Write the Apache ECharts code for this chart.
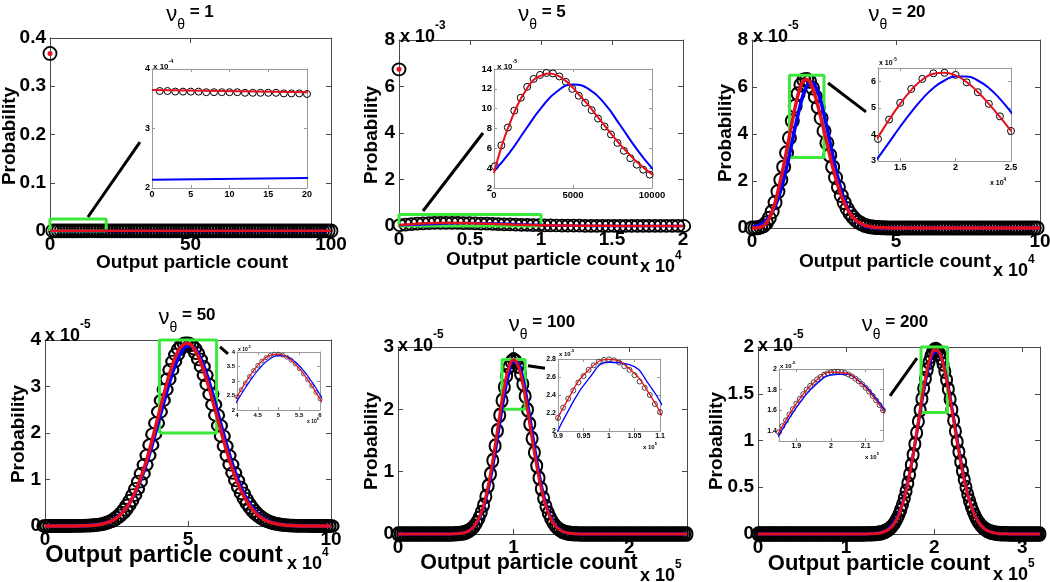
<!DOCTYPE html>
<html><head><meta charset="utf-8">
<script src="https://cdn.jsdelivr.net/npm/echarts@6/dist/echarts.min.js"></script>
<style>html,body{margin:0;padding:0;background:#fff}#c{width:1050px;height:582px}</style>
</head><body><div id="c"></div>
<script>
// ================= DATA =================
// nu_theta = 1 : x = particle count (integers), probability in units of 1e-4 unless noted
const nu1P0 = 0.368;                       // P(0), plotted at x = 0
const nu1CircStart = 1, nu1CircStep = 1;   // circles at x = 1..100
const nu1Circ = [3.63,3.63,3.62,3.62,3.62,3.62,3.61,3.61,3.61,3.61,3.61,3.60,3.60,3.60,3.60,3.60,3.59,3.59,3.59,3.58,
 3.58,3.58,3.58,3.57,3.57,3.57,3.57,3.56,3.56,3.56,3.56,3.55,3.55,3.55,3.55,3.54,3.54,3.54,3.54,3.53,
 3.53,3.53,3.53,3.52,3.52,3.52,3.52,3.51,3.51,3.51,3.51,3.50,3.50,3.50,3.50,3.49,3.49,3.49,3.49,3.48,
 3.48,3.48,3.48,3.47,3.47,3.47,3.47,3.46,3.46,3.46,3.46,3.45,3.45,3.45,3.45,3.44,3.44,3.44,3.44,3.43,
 3.43,3.43,3.43,3.42,3.42,3.42,3.42,3.41,3.41,3.41,3.41,3.40,3.40,3.40,3.40,3.39,3.39,3.39,3.39,3.38];
const nu1LineX = [0, 20, 100];
const nu1Red  = [3.645, 3.61, 3.45];
const nu1Blue = [2.14, 2.17, 2.29];

// nu_theta = 5 : probability in units of 1e-5
const nu5P0 = 6.74e-3;
const nu5CircStart = 60, nu5CircStep = 408;
const nu5Circ = [4.2,6.3,8.1,9.8,11.1,12.2,13.0,13.4,13.6,13.55,13.25,12.7,12.0,11.3,10.6,9.85,9.0,8.2,7.4,6.55,5.75,5.0,4.35,3.85,3.35,
 2.9,2.5,2.15,1.85,1.6,1.35,1.15,0.98,0.83,0.7,0.6,0.5,0.42,0.35,0.29,0.24,0.2,0.17,0.14,0.12,0.1,0.08,0.07,0.06,0.05];
const nu5RedX = [0,500,1000,1500,2000,2500,3000,3500,4000,4500,5000,5500,6000,6500,7000,7500,8000,8500,9000,9500,10000,
 11000,12000,13000,14000,15000,16000,17000,18000,19000,20000];
const nu5Red = [3.5,6.3,8.5,10.4,11.8,12.9,13.35,13.55,13.35,12.85,12.1,11.2,10.3,9.3,8.3,7.3,6.35,5.5,4.7,4.0,3.4,
 2.4,1.7,1.15,0.8,0.55,0.37,0.25,0.16,0.1,0.07];
const nu5BlueStart = 0, nu5BlueStep = 1000;
const nu5Blue = [3.7,5.6,7.9,10.1,11.75,12.43,11.97,10.5,8.3,6.0,4.0,2.35,1.27,0.62,0.28,0.11,0.04,0.013,0.004,0,0];

// nu_theta = 20 : units 1e-5
const nu20CircStart = 0, nu20CircStep = 1000;
const nu20Circ = [0,0.003,0.012,0.04,0.1,0.22,0.42,0.7,1.08,1.55,
 2.05,2.6,3.2,3.83,4.56,5.19,5.71,6.09,6.30,6.32,
 6.24,5.96,5.59,5.15,4.68,4.13,3.62,3.1,2.6,2.15,
 1.74,1.38,1.08,0.83,0.63,0.47,0.34,0.25,0.18,0.12,
 0.085,0.058,0.039,0.026,0.017,0.011,0.007,0.005,0.003,0.002,
 0.001,0,0,0,0,0,0,0,0,0, 0,0,0,0,0,0,0,0,0,0, 0,0,0,0,0,0,0,0,0,0,
 0,0,0,0,0,0,0,0,0,0, 0,0,0,0,0,0,0,0,0,0];
const nu20RedStart = 0, nu20RedStep = 1000;
const nu20Red = [0,0.003,0.012,0.04,0.1,0.22,0.42,0.7,1.08,1.56,
 2.1,2.66,3.27,3.9,4.55,5.15,5.67,6.06,6.28,6.32,
 6.22,5.97,5.6,5.15,4.66,4.14,3.62,3.1,2.6,2.15,
 1.74,1.38,1.08,0.83,0.63,0.47,0.34,0.25,0.18,0.12,
 0.085,0.058,0.039,0.026,0.017,0.011,0.007,0.005,0.003,0.002,0.001];
const nu20BlueStart = 0, nu20BlueStep = 1000;
const nu20Blue = [0.037,0.06,0.095,0.15,0.22,0.33,0.48,0.67,0.92,1.23,
 1.61,2.06,2.57,3.12,3.70,4.29,4.84,5.34,5.75,6.03,
 6.18,6.18,6.03,5.75,5.34,4.84,4.29,3.70,3.12,2.57,
 2.06,1.61,1.23,0.92,0.67,0.48,0.33,0.22,0.15,0.095,
 0.06,0.037,0.022,0.013,0.007,0.004];

// nu_theta = 50 : units 1e-5
const nu50CircStart = 0, nu50CircStep = 1000;
const nu50Circ = [0,0,0,0,0,0,0,0,0,0, 0.001,0.002,0.003,0.004,0.006,
 0.008,0.011,0.016,0.022,0.031, 0.042,0.057,0.077,0.101,0.133, 0.173,0.222,0.282,0.354,0.441,
 0.543,0.662,0.798,0.953,1.125, 1.315,1.521,1.742,1.974,2.214, 2.456,2.699,2.933,3.154,3.357,
 3.537,3.687,3.804,3.884,3.925, 3.926,3.89,3.82,3.718,3.585, 3.427,3.245,3.045,2.832,2.61,
 2.384,2.158,1.935,1.72,1.515, 1.322,1.143,0.98,0.832,0.701, 0.584,0.483,0.396,0.321,0.258,
 0.206,0.163,0.127,0.099,0.076, 0.058,0.044,0.033,0.024,0.018, 0.013,0.009,0.006,0.004,0.003,
 0.002,0.001,0.001,0,0, 0,0,0,0,0, 0];
const nu50RedStart = 10000, nu50RedStep = 2000;
const nu50Red = [0.001,0.003,0.006,0.011,0.022,0.042,0.077,0.133,0.222,0.354,0.543,0.798,1.125,1.521,1.974,2.456,2.933,3.357,3.687,3.884,
 3.926,3.82,3.585,3.245,2.832,2.384,1.935,1.515,1.143,0.832,0.584,0.396,0.258,0.163,0.099,0.058,0.033,0.018,0.009,0.004,0.002];
const nu50BlueStart = 14000, nu50BlueStep = 2000;
const nu50Blue = [0.007,0.014,0.027,0.048,0.084,0.142,0.229,0.357,0.535,0.773,1.076,1.44,1.858,2.308,2.76,3.18,3.527,3.767,3.875,3.839,
 3.662,3.364,2.976,2.536,2.08,1.644,1.251,0.916,0.646,0.439,0.288,0.181,0.11,0.064,0.036,0.02,0.01,0.005];

// nu_theta = 100 : units 1e-5
const nu100CircStart = 0, nu100CircStep = 2000;
const nu100Circ = [0,0,0,0,0,0,0,0,0,0, 0,0,0,0,0,0,0,0,0,0,
 0,0,0.001,0.001,0.002,0.004,0.006,0.01,0.016,0.025, 0.039,0.06,0.089,0.129,0.183,0.254,0.346,0.462,0.603,0.77,
 0.963,1.179,1.413,1.658,1.905,2.141,2.357,2.54,2.678,2.765, 2.795,2.769,2.692,2.569,2.405,2.211,1.994,1.765,1.533,1.307,
 1.094,0.898,0.724,0.572,0.444,0.338,0.253,0.186,0.134,0.094, 0.066,0.045,0.03,0.02,0.013,0.008,0.005,0.003,0.002,0.001,
 0,0,0,0,0,0,0,0,0,0, 0,0,0,0,0,0,0,0,0,0, 0,0,0,0,0,0,0,0,0,0, 0,0,0,0,0,0,0,0,0,0, 0,0,0,0,0,0];
const nu100ZoomStart = 90000, nu100ZoomStep = 1000;
const nu100Zoom = [2.145,2.26,2.36,2.45,2.54,2.61,2.68,2.73,2.77,2.79,2.795,2.785,2.76,2.72,2.68,2.62,2.55,2.48,2.40,2.30,2.21];
const nu100RedStart = 40000, nu100RedStep = 4000;
const nu100Red = [0,0.001,0.002,0.006,0.016,0.039,0.089,0.183,0.346,0.603,0.963,1.413,1.905,2.357,2.678,2.795,2.692,2.405,1.994,1.533,
 1.094,0.724,0.444,0.253,0.134,0.066,0.03,0.013,0.005,0.002,0];
const nu100BlueStart = 40000, nu100BlueStep = 4000;
const nu100Blue = [0,0.001,0.002,0.006,0.016,0.039,0.085,0.172,0.321,0.554,0.884,1.301,1.769,2.223,2.579,2.764,2.737,2.503,2.115,1.65,
 1.19,0.792,0.487,0.277,0.145,0.07,0.032,0.013,0.005,0.002,0];

// nu_theta = 200 : units 1e-5
const nu200CircStart = 0, nu200CircStep = 2000;
const nu200Circ = [0,0,0,0,0,0,0,0,0,0, 0,0,0,0,0,0,0,0,0,0, 0,0,0,0,0,0,0,0,0,0,
 0,0,0,0,0,0,0,0,0,0, 0,0,0,0,0,0,0,0,0,0, 0,0,0,0,0,0,0,0,0,0,
 0,0.001,0.001,0.001,0.002,0.003,0.004,0.005,0.007,0.01, 0.014,0.02,0.027,0.036,0.048,0.063,0.081,0.105,0.133,0.168,
 0.21,0.259,0.317,0.383,0.458,0.543,0.636,0.738,0.847,0.963, 1.082,1.204,1.326,1.445,1.558,1.663,1.756,1.836,1.899,1.944,
 1.969,1.974,1.961,1.929,1.881,1.817,1.739,1.649,1.549,1.442, 1.33,1.215,1.1,0.987,0.877,0.772,0.674,0.583,0.499,0.424,
 0.356,0.297,0.245,0.2,0.162,0.13,0.104,0.082,0.064,0.049, 0.038,0.029,0.022,0.016,0.012,0.009,0.006,0.005,0.003,0.002,
 0.002,0.001,0.001, 0,0,0,0,0,0,0,0,0,0, 0,0,0,0,0,0,0,0];
const nu200ZoomStart = 185000, nu200ZoomStep = 1000;
const nu200Zoom = [1.385,1.445,1.50,1.558,1.61,1.663,1.71,1.756,1.80,1.836,1.87,1.899,1.923,1.944,1.958,1.969,1.974,1.974,1.969,1.961,
 1.947,1.929,1.906,1.881,1.851,1.817,1.78,1.739,1.695,1.649,1.60];
const nu200RedStart = 120000, nu200RedStep = 4000;
const nu200Red = [0,0.001,0.002,0.004,0.007,0.014,0.027,0.048,0.081,0.133,0.21,0.317,0.458,0.636,0.847,1.082,1.326,1.558,1.756,1.899,
 1.969,1.961,1.881,1.739,1.549,1.33,1.1,0.877,0.674,0.499,0.356,0.245,0.162,0.104,0.064,0.038,0.022,0.012,0.006,0.003,0.002,0.001,0];
const nu200BlueStart = 120000, nu200BlueStep = 4000;
const nu200Blue = [0.001,0.001,0.003,0.005,0.01,0.019,0.033,0.057,0.094,0.149,0.228,0.335,0.474,0.646,0.848,1.07,1.301,1.522,1.715,1.859,
 1.941,1.95,1.886,1.756,1.574,1.358,1.128,0.902,0.694,0.514,0.367,0.252,0.167,0.106,0.065,0.038,0.022,0.012,0.006,0.003,0.002,0.001,0];

// ================= BUILD =================
const FONT = "'Liberation Sans', Arial, Helvetica, sans-serif";
const RED = '#e3101e', BLUE = '#0000ff', GREEN = '#3be83b';
const grids = [], xAxes = [], yAxes = [], series = [], graphics = [];

const seq = (start, step, vals, unit) => vals.map((v, i) => [start + i * step, v * unit]);
const pairs = (xs, vals, unit) => vals.map((v, i) => [xs[i], v * unit]);
function pad(pts, xMin, xMax) {
  const o = pts.slice();
  if (o[0][0] > xMin) o.unshift([xMin, 0]);
  if (o[o.length - 1][0] < xMax) o.push([xMax, 0]);
  return o;
}
const fmt = s => v => String(parseFloat((v / s).toFixed(6)));

function addAxes(gi, r, isX, st) {
  const mk = (pos, showLab) => ({
    type: 'value', gridIndex: gi, position: pos, min: r.min, max: r.max,
    splitLine: { show: false },
    axisLine: { show: true, onZero: false, lineStyle: { color: st.color, width: 1 } },
    axisTick: { show: true, inside: true, length: st.tick, customValues: r.ticks.slice(), lineStyle: { color: st.color, width: 1 } },
    axisLabel: showLab ? { show: true, customValues: r.ticks.slice(), formatter: fmt(r.scale), fontSize: st.fs,
      fontWeight: 'bold', fontFamily: FONT, color: '#000', margin: st.margin } : { show: false }
  });
  const arr = isX ? xAxes : yAxes;
  const idx = arr.length;
  arr.push(mk(isX ? 'bottom' : 'left', true), mk(isX ? 'top' : 'right', false));
  return idx;
}
function addGrid(rect, xr, yr, st) {
  const gi = grids.length;
  grids.push({ left: rect[0], top: rect[1], width: rect[2], height: rect[3], containLabel: false, outerBoundsMode: 'none', show: false });
  return { xi: addAxes(gi, xr, true, st), yi: addAxes(gi, yr, false, st) };
}
function scatter(ax, data, size, bw, clip, z, fill, stroke) {
  series.push({ type: 'scatter', xAxisIndex: ax.xi, yAxisIndex: ax.yi, data, symbol: 'circle', symbolSize: size,
    itemStyle: { color: fill || 'rgba(0,0,0,0)', borderColor: stroke || '#000', borderWidth: bw, opacity: 1 },
    clip, z, silent: true, animation: false });
}
function line(ax, data, color, width, clip, z, smooth) {
  series.push({ type: 'line', xAxisIndex: ax.xi, yAxisIndex: ax.yi, data, symbol: 'none', showSymbol: false,
    smooth: smooth ? 0.5 : false, lineStyle: { color, width }, clip, z, silent: true, animation: false });
}
function text(x, y, str, style, extra) {
  graphics.push(Object.assign({ type: 'text', x, y, z: 100, silent: true,
    style: Object.assign({ text: str, fill: '#000', fontFamily: FONT }, style) }, extra || {}));
}
function title(cx, cy, num) {
  text(cx, cy - 7, '{n|ν}{s|θ}{b| = ' + num + '}', { align: 'center', verticalAlign: 'top', textAlign: 'center', textVerticalAlign: 'top',
    rich: { n: { fontSize: 22, fontFamily: FONT, lineHeight: 28, verticalAlign: 'top', fill: '#000' },
            s: { fontSize: 14, fontFamily: FONT, lineHeight: 11, verticalAlign: 'bottom', fill: '#000' },
            b: { fontSize: 17, fontWeight: 'bold', fontFamily: FONT, lineHeight: 28, verticalAlign: 'top', fill: '#000' } } });
}
function expo(left, cy, e, fb) {
  const fs = Math.round(fb * 0.66 * 10) / 10, lh = Math.round(fb * 1.45);
  text(left, cy - lh / 2, '{b|x 10}{s|' + e + '}', { align: 'left', verticalAlign: 'top', textAlign: 'left', textVerticalAlign: 'top',
    rich: { b: { fontSize: fb, fontWeight: 'bold', fontFamily: FONT, lineHeight: lh, verticalAlign: 'bottom', fill: '#000' },
            s: { fontSize: fs, fontWeight: 'bold', fontFamily: FONT, lineHeight: Math.round(fs), verticalAlign: 'top', fill: '#000' } } });
}
function yTitle(cx, cy) {
  text(cx, cy, 'Probability', { fontSize: 19, fontWeight: 'bold', align: 'center', verticalAlign: 'middle', textAlign: 'center', textVerticalAlign: 'middle' }, { rotation: Math.PI / 2 });
}
function xTitle(cx, cy, fs) {
  text(cx, cy, 'Output particle count', { fontSize: fs, fontWeight: 'bold', align: 'center', verticalAlign: 'middle', textAlign: 'center', textVerticalAlign: 'middle' });
}

const MAIN = { color: '#4a4a4a', tick: 5, fs: 19, margin: 4 };
const insetSt = fs => ({ color: '#999', tick: 3, fs, margin: 2 });

function panel(p) {
  const m = addGrid(p.rect, p.x, p.y, MAIN);
  scatter(m, p.circ, p.sym, p.bw || 2, false, 2);
  line(m, [[p.box[0], p.box[2]], [p.box[1], p.box[2]], [p.box[1], p.box[3]], [p.box[0], p.box[3]], [p.box[0], p.box[2]]], GREEN, 3, false, 3, false);
  line(m, p.blue, BLUE, p.lw, false, 4, p.smooth);
  line(m, p.red, RED, p.lw, false, 5, p.smooth);
  line(m, p.conn, '#000', 3, false, 6, false);
  if (p.p0 !== undefined) scatter(m, [[0, p.p0]], 5, 0, false, 7, RED, RED);
  const i = addGrid(p.in.rect, p.in.x, p.in.y, insetSt(p.in.fs));
  scatter(i, p.in.circ || p.circ, p.in.sym, p.in.bw, true, 8, null, p.in.stroke);
  line(i, p.blue, BLUE, p.in.lw, true, 9, p.smooth);
  line(i, p.red, RED, p.in.lw, true, 10, p.smooth);
}

const u4 = 1e-4, u5 = 1e-5;
// ---- nu = 1 ----
panel({ rect: [50, 38, 281, 193], x: { min: 0, max: 100, ticks: [0, 50, 100], scale: 1 }, y: { min: 0, max: 0.4, ticks: [0, 0.1, 0.2, 0.3, 0.4], scale: 1 },
  circ: [[0, nu1P0]].concat(seq(nu1CircStart, nu1CircStep, nu1Circ, u4)), p0: nu1P0, sym: 13, bw: 1.8, lw: 2.5, smooth: false,
  red: pairs(nu1LineX, nu1Red, u4), blue: pairs(nu1LineX, nu1Blue, u4),
  box: [0, 20, 0, 0.025], conn: [[13.5, 0.029], [32, 0.184]],
  in: { rect: [152, 69, 155, 119], x: { min: 0, max: 20, ticks: [0, 5, 10, 15, 20], scale: 1 }, y: { min: 2e-4, max: 4e-4, ticks: [2e-4, 3e-4, 4e-4], scale: 1e-4 }, fs: 9, sym: 7, bw: 1, lw: 2 } });
// ---- nu = 5 ----
panel({ rect: [399, 40, 284, 186], x: { min: 0, max: 20000, ticks: [0, 5000, 10000, 15000, 20000], scale: 1e4 }, y: { min: 0, max: 8e-3, ticks: [0, 2e-3, 4e-3, 6e-3, 8e-3], scale: 1e-3 },
  circ: [[0, nu5P0]].concat(seq(nu5CircStart, nu5CircStep, nu5Circ, u5)), p0: nu5P0, sym: [13, 12], bw: 1.8, lw: 2.5, smooth: true,
  red: pairs(nu5RedX, nu5Red, u5), blue: seq(nu5BlueStart, nu5BlueStep, nu5Blue, u5),
  box: [0, 10000, 0, 5e-4], conn: [[1690, 6.45e-4], [5915, 4.0e-3]],
  in: { rect: [494, 69, 158, 119], x: { min: 0, max: 10000, ticks: [0, 5000, 10000], scale: 1 }, y: { min: 2e-5, max: 14e-5, ticks: [2e-5, 4e-5, 6e-5, 8e-5, 10e-5, 12e-5, 14e-5], scale: 1e-5 }, fs: 9.5, sym: 7, bw: 1, lw: 2 } });
// ---- nu = 20 ----
panel({ rect: [752, 40, 288, 188], x: { min: 0, max: 100000, ticks: [0, 50000, 100000], scale: 1e4 }, y: { min: 0, max: 8e-5, ticks: [0, 2e-5, 4e-5, 6e-5, 8e-5], scale: 1e-5 },
  circ: seq(nu20CircStart, nu20CircStep, nu20Circ, u5), sym: 13, lw: 3.5, smooth: true,
  red: pad(seq(nu20RedStart, nu20RedStep, nu20Red, u5), 0, 100000), blue: pad(seq(nu20BlueStart, nu20BlueStep, nu20Blue, u5), 0, 100000),
  box: [13000, 25000, 3e-5, 6.5e-5], conn: [[26390, 6.17e-5], [39580, 4.94e-5]],
  in: { rect: [878, 68, 133, 93], x: { min: 13000, max: 25000, ticks: [15000, 20000, 25000], scale: 1e4 }, y: { min: 3e-5, max: 6.5e-5, ticks: [3e-5, 4e-5, 5e-5, 6e-5], scale: 1e-5 }, fs: 9, sym: 7, bw: 1, lw: 2 } });
// ---- nu = 50 ----
panel({ rect: [45, 340, 286, 186], x: { min: 0, max: 100000, ticks: [0, 50000, 100000], scale: 1e4 }, y: { min: 0, max: 4e-5, ticks: [0, 1e-5, 2e-5, 3e-5, 4e-5], scale: 1e-5 },
  circ: seq(nu50CircStart, nu50CircStep, nu50Circ, u5), sym: [15, 12], lw: 3.5, smooth: true,
  red: pad(seq(nu50RedStart, nu50RedStep, nu50Red, u5), 0, 100000), blue: pad(seq(nu50BlueStart, nu50BlueStep, nu50Blue, u5), 0, 100000),
  box: [40000, 60000, 2e-5, 4e-5], conn: [[61190, 3.85e-5], [63990, 3.70e-5]],
  in: { rect: [237, 352, 83, 58], x: { min: 40000, max: 60000, ticks: [40000, 45000, 50000, 55000, 60000], scale: 1e4 }, y: { min: 2e-5, max: 4e-5, ticks: [2e-5, 2.5e-5, 3e-5, 3.5e-5, 4e-5], scale: 1e-5 }, fs: 6, sym: 4, bw: 0.8, lw: 1.2, stroke: '#333' } });
// ---- nu = 100 ----
panel({ rect: [398, 347, 289, 187], x: { min: 0, max: 250000, ticks: [0, 100000, 200000], scale: 1e5 }, y: { min: 0, max: 3e-5, ticks: [0, 1e-5, 2e-5, 3e-5], scale: 1e-5 },
  circ: seq(nu100CircStart, nu100CircStep, nu100Circ, u5), sym: [11, 13], bw: 2.2, lw: 3, smooth: true,
  red: pad(seq(nu100RedStart, nu100RedStep, nu100Red, u5), 0, 250000), blue: pad(seq(nu100BlueStart, nu100BlueStep, nu100Blue, u5), 0, 250000),
  box: [90000, 110000, 2e-5, 2.8e-5], conn: [[112460, 2.70e-5], [127160, 2.66e-5]],
  in: { rect: [558, 359, 102, 72], x: { min: 90000, max: 110000, ticks: [90000, 95000, 100000, 105000, 110000], scale: 1e5 }, y: { min: 2e-5, max: 2.8e-5, ticks: [2e-5, 2.2e-5, 2.4e-5, 2.6e-5, 2.8e-5], scale: 1e-5 }, fs: 7, sym: 5, bw: 0.9, lw: 1.3, stroke: '#333',
    circ: seq(nu100ZoomStart, nu100ZoomStep, nu100Zoom, u5) } });
// ---- nu = 200 ----
panel({ rect: [758, 347, 282, 187], x: { min: 0, max: 320000, ticks: [0, 100000, 200000, 300000], scale: 1e5 }, y: { min: 0, max: 2e-5, ticks: [0, 0.5e-5, 1e-5, 1.5e-5, 2e-5], scale: 1e-5 },
  circ: seq(nu200CircStart, nu200CircStep, nu200Circ, u5), sym: [11, 13], bw: 2.2, lw: 3, smooth: true,
  red: pad(seq(nu200RedStart, nu200RedStep, nu200Red, u5), 0, 320000), blue: pad(seq(nu200BlueStart, nu200BlueStep, nu200Blue, u5), 0, 320000),
  box: [185000, 215000, 1.3e-5, 2e-5], conn: [[149790, 1.476e-5], [180430, 1.882e-5]],
  in: { rect: [779, 369, 104, 72], x: { min: 185000, max: 215000, ticks: [190000, 200000, 210000], scale: 1e5 }, y: { min: 1.3e-5, max: 2e-5, ticks: [1.4e-5, 1.6e-5, 1.8e-5, 2e-5], scale: 1e-5 }, fs: 7, sym: 5, bw: 0.9, lw: 1.3, stroke: '#333',
    circ: seq(nu200ZoomStart, nu200ZoomStep, nu200Zoom, u5) } });

// ---- texts ----
title(190, 11, '1'); title(542, 11, '5'); title(897, 11, '20');
title(187, 314, '50'); title(542, 321, '100'); title(895, 321, '200');
yTitle(10, 136); yTitle(372, 135); yTitle(726, 133);
yTitle(19, 434); yTitle(372, 441); yTitle(717, 441);
xTitle(192, 263, 19); xTitle(542, 260, 19); xTitle(895, 262, 19);
xTitle(164, 556, 23.5); xTitle(529, 563, 21.5); xTitle(879, 564, 22);
expo(400, 33, '-3', 18); expo(640, 263, '4', 18);
expo(753, 33, '-5', 18); expo(993, 267, '4', 18);
expo(45, 332, '-5', 18); expo(287, 560, '4', 18);
expo(398, 342, '-5', 18); expo(640, 572, '5', 18);
expo(758, 342, '-5', 18); expo(993, 571, '5', 18);
expo(153, 65, '-4', 8); expo(497, 65, '-5', 8);
expo(879, 62, '-5', 7); expo(990, 182, '4', 7);
expo(238, 349, '-5', 5); expo(307, 421, '4', 5);
expo(559, 353, '-5', 6); expo(643, 446, '5', 6);
expo(780, 365, '-5', 6); expo(865, 456, '5', 6);

const chart = echarts.init(document.getElementById('c'), null, { renderer: 'canvas' });
chart.setOption({ animation: false, backgroundColor: '#fff', grid: grids, xAxis: xAxes, yAxis: yAxes, series, graphic: { elements: graphics } });
</script></body></html>
